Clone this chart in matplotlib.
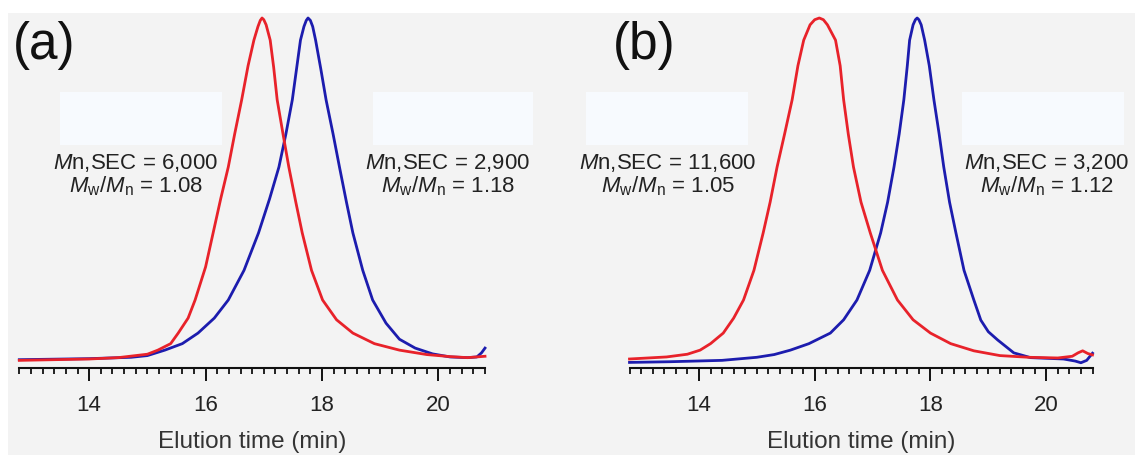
import matplotlib
matplotlib.use("Agg")
import matplotlib.pyplot as plt
from matplotlib.patches import Rectangle
from matplotlib.ticker import MultipleLocator

plt.rcParams['font.family'] = ['Liberation Sans', 'DejaVu Sans']
plt.rcParams['mathtext.fontset'] = 'custom'
plt.rcParams['mathtext.rm'] = 'Liberation Sans'
plt.rcParams['mathtext.it'] = 'Liberation Sans:italic'

# ---- data (elution time in min, normalised RI signal) ----
t_red_a = [12.8, 14.0, 14.5, 15.0, 15.18, 15.4, 15.53, 15.7, 15.82, 16.0, 16.13,
           16.26, 16.39, 16.5, 16.62, 16.73, 16.83, 16.9, 16.94, 16.97, 17.0, 17.04, 17.11,
           17.17, 17.23, 17.33, 17.43, 17.55, 17.66, 17.82, 18.01, 18.25, 18.53, 18.9,
           19.33, 19.8, 20.2, 20.5, 20.8]
i_red_a = [-0.004, 0.0, 0.004, 0.014, 0.026, 0.045, 0.076, 0.12, 0.173, 0.27, 0.37,
           0.47, 0.563, 0.66, 0.76, 0.86, 0.935, 0.975, 0.993, 1.0, 0.995, 0.98, 0.935,
           0.855, 0.76, 0.66, 0.563, 0.46, 0.37, 0.26, 0.173, 0.115, 0.076, 0.045,
           0.026, 0.013, 0.007, 0.004, 0.008]

t_blue_a = [12.8, 14.0, 14.72, 15.0, 15.3, 15.6, 15.87, 16.15, 16.39, 16.66, 16.91,
            17.1, 17.26, 17.38, 17.49, 17.57, 17.63, 17.69, 17.73, 17.76, 17.8, 17.84, 17.89,
            17.98, 18.07, 18.19, 18.3, 18.42, 18.53, 18.7, 18.87, 19.1, 19.33, 19.6, 19.9,
            20.2, 20.5, 20.66, 20.74, 20.8]
i_blue_a = [-0.002, 0.001, 0.005, 0.01, 0.026, 0.045, 0.076, 0.12, 0.173, 0.26, 0.37,
            0.47, 0.563, 0.66, 0.76, 0.86, 0.935, 0.975, 0.993, 1.0, 0.993, 0.975, 0.935,
            0.85, 0.76, 0.66, 0.563, 0.46, 0.37, 0.26, 0.173, 0.105, 0.058, 0.032, 0.015,
            0.006, 0.004, 0.006, 0.018, 0.032]

t_red_b = [12.8, 13.44, 13.8, 14.02, 14.2, 14.42, 14.6, 14.77, 14.95, 15.11, 15.23,
           15.35, 15.48, 15.61, 15.71, 15.81, 15.92, 16.0, 16.08, 16.15, 16.22, 16.36, 16.44,
           16.5, 16.58, 16.67, 16.8, 16.96, 17.17, 17.43, 17.7, 18.0, 18.35, 18.75,
           19.2, 19.7, 20.2, 20.45, 20.55, 20.63, 20.72, 20.8]
i_red_b = [0.0, 0.006, 0.014, 0.026, 0.045, 0.076, 0.12, 0.173, 0.26, 0.37, 0.46,
           0.563, 0.66, 0.76, 0.86, 0.935, 0.98, 0.995, 1.0, 0.995, 0.98, 0.935, 0.86,
           0.76, 0.66, 0.563, 0.46, 0.37, 0.26, 0.173, 0.115, 0.076, 0.045, 0.024,
           0.01, 0.005, 0.003, 0.008, 0.018, 0.024, 0.016, 0.012]

t_blue_b = [12.8, 13.5, 14.4, 15.0, 15.3, 15.58, 15.9, 16.27, 16.5, 16.73, 16.95,
            17.14, 17.26, 17.37, 17.46, 17.54, 17.6, 17.64, 17.7, 17.74, 17.77, 17.8, 17.84,
            17.9, 17.98, 18.06, 18.15, 18.23, 18.33, 18.44, 18.58, 18.75, 18.87,
            19.0, 19.16, 19.44, 19.73, 20.3, 20.5, 20.6, 20.7, 20.8]
i_blue_b = [-0.01, -0.008, -0.004, 0.005, 0.013, 0.026, 0.045, 0.076, 0.115, 0.173, 0.26,
            0.37, 0.46, 0.563, 0.66, 0.76, 0.86, 0.935, 0.98, 0.995, 1.0, 0.995, 0.98,
            0.935, 0.86, 0.76, 0.66, 0.563, 0.46, 0.37, 0.26, 0.173, 0.114,
            0.08, 0.056, 0.018, 0.004, 0.0, -0.006, -0.011, -0.004, 0.017]

panel_labels = ['(a)', '(b)']
mn_red = ['6,000', '11,600']
pdi_red = ['1.08', '1.05']
mn_blue = ['2,900', '3,200']
pdi_blue = ['1.18', '1.12']

RED = '#e8222a'
BLUE = '#1c1cae'
BG = '#f3f3f3'
BOX = '#f7fafe'

W, H = 1135, 455
fig = plt.figure(figsize=(W / 100, H / 100), dpi=100, facecolor=BG)


def fx(px):
    return px / W


def fy(py):
    return 1 - py / H


# white strips at the top and left edges of the scanned figure
fig.patches.append(Rectangle((0, fy(13)), 1, 13 / H, transform=fig.transFigure,
                             facecolor='white', edgecolor='none', zorder=0))
fig.patches.append(Rectangle((0, 0), fx(8), 1, transform=fig.transFigure,
                             facecolor='white', edgecolor='none', zorder=0))

curves = [((t_red_a, i_red_a), (t_blue_a, i_blue_a)),
          ((t_red_b, i_red_b), (t_blue_b, i_blue_b))]
ax_left = [19.3, 629.5]
ax_right = [485, 1092.5]
label_x = [13, 613]
box_left = [(60, 222), (586, 748)]
box_right = [(373, 533), (962, 1124)]
txt_left_x = [136, 668]
txt_right_x = [448, 1047]

for k in range(2):
    ax = fig.add_axes([fx(ax_left[k]), fy(368), fx(ax_right[k] - ax_left[k]), (368 - 18) / H])
    ax.set_facecolor('none')
    (tr, ir), (tb, ib) = curves[k]
    ax.plot(tr, ir, color=RED, lw=2.0, clip_on=False, zorder=3,
            solid_joinstyle='round')
    ax.plot(tb, ib, color=BLUE, lw=2.0, clip_on=False, zorder=2,
            solid_joinstyle='round')
    ax.set_xlim(12.8, 20.8)
    ax.set_ylim(-0.0264, 1.0)
    for s in ['left', 'right', 'top']:
        ax.spines[s].set_visible(False)
    ax.spines['bottom'].set_linewidth(1.5)
    ax.spines['bottom'].set_color('#111111')
    ax.yaxis.set_visible(False)
    ax.xaxis.set_major_locator(MultipleLocator(2))
    ax.xaxis.set_minor_locator(MultipleLocator(0.2))
    ax.tick_params(axis='x', which='major', direction='out', length=9.5, width=1.4,
                   labelsize=16, pad=10, colors='#111111', labelcolor='#222222')
    ax.tick_params(axis='x', which='minor', direction='out', length=4.5, width=1.3,
                   colors='#111111')
    ax.set_xlabel('Elution time (min)', fontsize=17.5, labelpad=11, color='#333333')

    fig.text(fx(label_x[k]), fy(46), panel_labels[k], fontsize=37, ha='left', va='center',
             color='#111111')

    for (x0, x1) in (box_left[k], box_right[k]):
        fig.patches.append(Rectangle((fx(x0), fy(145)), fx(x1 - x0), (145 - 92) / H,
                                     transform=fig.transFigure, facecolor=BOX,
                                     edgecolor='none', zorder=1))

    for cx, mn, pdi in ((txt_left_x[k], mn_red[k], pdi_red[k]),
                        (txt_right_x[k], mn_blue[k], pdi_blue[k])):
        fig.text(fx(cx), fy(163), r'$M$n,SEC = ' + mn, fontsize=16, ha='center',
                 va='center', color='#222222')
        fig.text(fx(cx), fy(186), r'$M_\mathrm{w}/M_\mathrm{n}$ = ' + pdi, fontsize=16,
                 ha='center', va='center', color='#222222')

fig.savefig('out.png', dpi=100, facecolor=BG)
